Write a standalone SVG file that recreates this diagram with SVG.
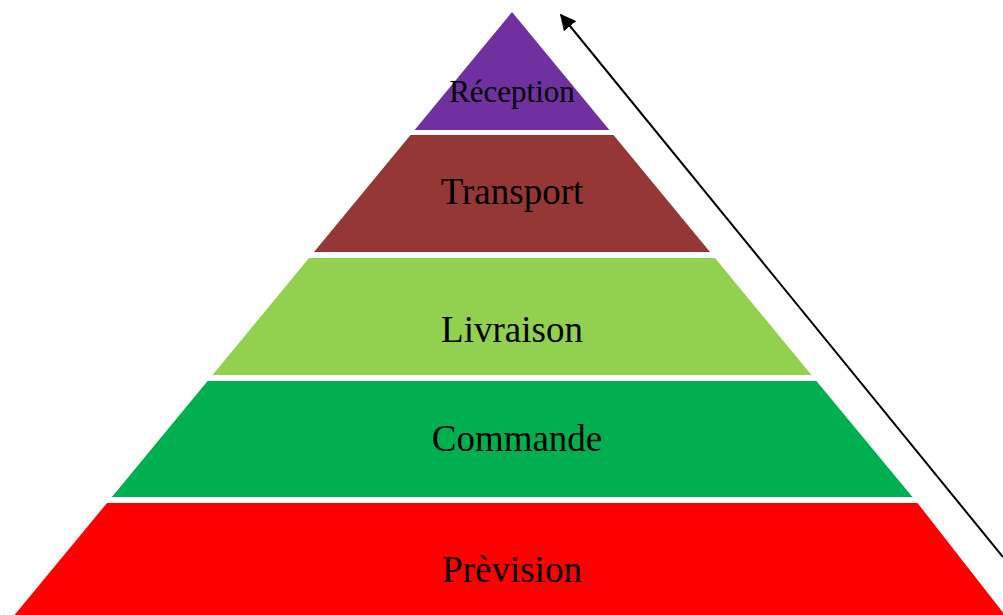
<svg xmlns="http://www.w3.org/2000/svg" width="1003" height="615" viewBox="0 0 1003 615">
<style>
.lbl{font-family:"Liberation Serif","Times New Roman",serif;fill:#000;text-anchor:middle}
</style>
<defs>
<marker id="ah" viewBox="0 0 10 10" refX="9" refY="5" markerWidth="8" markerHeight="8" orient="auto" markerUnits="strokeWidth">
<path d="M0,0 L10,5 L0,10 z" fill="#000"/>
</marker>
</defs>
<rect width="1003" height="615" fill="#fff"/>
<g id="reception">
<polygon points="512,12 609.4,130 414.6,130" fill="#7030A0"/>
<text class="lbl" x="512" y="102" font-size="31">Réception</text>
</g>
<g id="transport">
<polygon points="410.5,135 613.5,135 710,252 314,252" fill="#953735"/>
<text class="lbl" x="512" y="204" font-size="37">Transport</text>
</g>
<g id="livraison">
<polygon points="309,258 715,258 811.5,375 212.5,375" fill="#92D050"/>
<text class="lbl" x="512" y="342" font-size="37">Livraison</text>
</g>
<g id="commande">
<polygon points="207.6,381 816.4,381 912.5,497 111.9,497" fill="#00B050"/>
<text class="lbl" x="517" y="451" font-size="37">Commande</text>
</g>
<g id="prevision">
<polygon points="107,503 917.5,503 1005,615 14.5,615" fill="#FF0000"/>
<text class="lbl" x="512" y="582" font-size="37">Prèvision</text>
</g>
<g id="connectors">
<line x1="1003" y1="557" x2="561" y2="15" stroke="#000" stroke-width="2" marker-end="url(#ah)"/>
</g>
</svg>
